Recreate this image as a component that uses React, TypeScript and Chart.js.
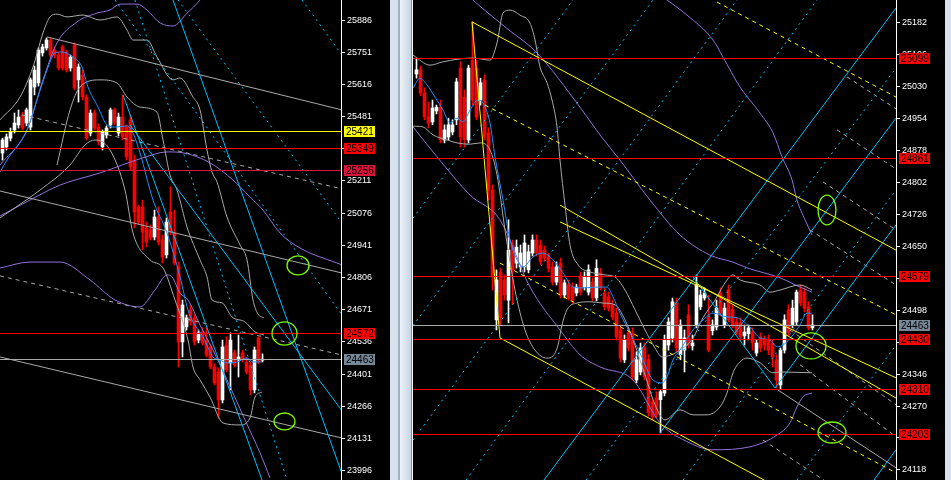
import { useEffect, useRef } from "react";
import { Chart, registerables } from "chart.js";

Chart.register(...registerables);

/* ===================== left chart ===================== */
const leftOpen = [25328, 25354, 25391, 25425, 25446, 25488, 25454, 25437, 25605, 25622, 25748, 25769, 25802, 25760, 25739, 25773, 25752, 25685, 25781, 25635, 25655, 25563, 25412, 25496, 25437, 25354, 25404, 25446, 25509, 25412, 25479, 25437, 25467, 25299, 25102, 25102, 25014, 25006, 24976, 25060, 24964, 24901, 25081, 24997, 24850, 24536, 24599, 24670, 24637, 24544, 24578, 24544, 24515, 24431, 24410, 24293, 24523, 24448, 24490, 24460, 24490, 24452, 24439, 24335, 24553, 24460];
const leftHigh = [25391, 25408, 25433, 25496, 25509, 25500, 25517, 25643, 25693, 25769, 25785, 25811, 25811, 25773, 25752, 25781, 25760, 25739, 25790, 25702, 25676, 25572, 25509, 25509, 25450, 25425, 25442, 25517, 25517, 25496, 25572, 25446, 25488, 25320, 25110, 25131, 25039, 25027, 25089, 25102, 24985, 25056, 25186, 25089, 24871, 24712, 24649, 24691, 24649, 24586, 24595, 24599, 24528, 24444, 24427, 24544, 24557, 24574, 24502, 24565, 24502, 24469, 24452, 24515, 24557, 24486];
const leftLow = [25299, 25341, 25379, 25412, 25433, 25425, 25442, 25425, 25572, 25609, 25735, 25760, 25731, 25727, 25676, 25676, 25668, 25672, 25593, 25542, 25551, 25383, 25400, 25425, 25362, 25341, 25391, 25433, 25446, 25400, 25383, 25299, 25257, 25014, 25031, 24922, 24934, 24964, 24964, 24943, 24867, 24888, 24985, 24859, 24431, 24473, 24586, 24607, 24523, 24532, 24523, 24473, 24423, 24356, 24217, 24280, 24410, 24335, 24431, 24389, 24452, 24402, 24314, 24322, 24444, 24452];
const leftClose = [25383, 25396, 25417, 25454, 25479, 25433, 25509, 25635, 25676, 25760, 25773, 25802, 25739, 25739, 25685, 25685, 25676, 25731, 25601, 25689, 25563, 25391, 25496, 25433, 25375, 25417, 25433, 25509, 25454, 25479, 25396, 25312, 25270, 25081, 25039, 24997, 24955, 24972, 25060, 24955, 24892, 25039, 24997, 24867, 24536, 24691, 24637, 24620, 24536, 24574, 24532, 24481, 24431, 24364, 24293, 24515, 24419, 24544, 24439, 24473, 24460, 24410, 24335, 24502, 24452, 24463];

const leftTicks = [25886, 25751, 25616, 25481, 25346, 25211, 25076, 24941, 24806, 24671, 24536, 24401, 24266, 24131, 23996];
const leftLevels = [25421, 25349, 25256, 24572, 24463];

// indicator curves: [bar, price]
const leftMa = [[-0.625, 25249], [1.125, 25299], [6.125, 25425], [8.625, 25551], [11.125, 25676], [13.125, 25748], [14.875, 25752], [17.625, 25731], [19.875, 25689], [21.375, 25605], [23.875, 25521], [26.125, 25446], [28.125, 25437], [31.125, 25442], [32.625, 25412], [34.375, 25328], [37.625, 25131], [41.125, 24993], [44.375, 24809], [46.375, 24670], [47.625, 24620], [50.125, 24557], [52.625, 24473], [54.375, 24460], [56.125, 24448], [58.625, 24452], [61.125, 24469], [62.625, 24452], [64.875, 24452]];
const leftBandUpper = [[-0.625, 25467], [4.375, 25563], [7.625, 25689], [10.125, 25832], [11.875, 25899], [13.625, 25911], [16.125, 25899], [20.125, 25907], [24.375, 25886], [28.625, 25899], [31.125, 25844], [32.625, 25802], [36.125, 25802], [38.625, 25731], [42.625, 25635], [44.375, 25643], [47.625, 25563], [49.375, 25509], [51.125, 25341], [52.375, 25249], [53.625, 25207], [56.125, 25060], [59.375, 24943], [61.125, 24880], [62.625, 24712], [63.875, 24653], [65.375, 24637]];
const leftBandInner = [[13.625, 25278], [16.875, 25509], [19.375, 25605], [24.375, 25635], [28.625, 25622], [31.125, 25563], [34.375, 25521], [38.625, 25500], [40.125, 25383], [41.875, 25236], [43.625, 25173], [46.125, 25018], [49.375, 24880], [51.125, 24809], [52.375, 24712], [54.875, 24700], [57.375, 24641], [60.625, 24620], [63.125, 24578], [65.375, 24565]];
const leftBandLower = [[-0.625, 25056], [9.375, 25173], [16.875, 25278], [20.625, 25362], [23.125, 25383], [26.875, 25341], [30.625, 25173], [32.625, 24993], [36.875, 24880], [40.125, 24846], [43.125, 24712], [46.375, 24544], [47.625, 24431], [49.375, 24377], [51.875, 24305], [55.125, 24196], [59.375, 24188], [61.875, 24217], [63.125, 24305], [64.875, 24326]];
const leftEnvUpper = [[-0.625, 25278], [6.125, 25425], [10.125, 25635], [13.625, 25790], [18.625, 25878], [23.625, 25915], [26.875, 25928], [29.375, 25953], [33.625, 25953], [36.125, 25928], [39.375, 25874], [42.625, 25861], [46.125, 25915], [49.375, 25970], [51.875, 26033]];
const leftEnvMid = [[-0.625, 25064], [6.875, 25131], [14.375, 25194], [24.375, 25245], [35.125, 25308], [41.125, 25333], [45.125, 25329], [51.875, 25287], [57.625, 25215], [61.875, 25144], [65.125, 25089], [69.375, 24993], [74.375, 24930], [84.875, 24859]];
const leftEnvLower = [[-0.625, 24846], [6.875, 24871], [14.375, 24871], [21.875, 24796], [28.125, 24712], [34.375, 24683], [38.125, 24754], [41.125, 24817], [42.375, 24809], [44.375, 24741], [46.375, 24712], [49.375, 24607], [52.625, 24502], [56.125, 24377], [60.625, 24209], [64.375, 24071], [66.875, 23966]];

// drawn lines: [bar1, price1, bar2, price2]
const leftGrayLines = [[11.125, 25815, 84.875, 25509], [-0.625, 25169, 84.875, 24825], [-0.625, 24473, 84.875, 24133]];
const leftGrayDashed = [[4.875, 25488, 84.875, 25178], [-0.625, 24813, 84.875, 24481]];
const leftCyanLines = [[30.125, 25572, 64.875, 23957], [42.625, 25970, 84.875, 23983], [31.875, 25446, 84.875, 24247]];
const leftCyanDotted = [[33.125, 25970, 71.125, 23957], [28.125, 25970, 84.875, 24649], [43.875, 25970, 84.875, 25035], [74.875, 25970, 84.875, 25739]];
const leftEllipses = [[71.125, 24897, 76.625, 24817], [67.375, 24620, 73.625, 24523], [67.875, 24238, 73.125, 24167]];

/* ===================== right chart ===================== */
const rightOpen = [25060, 25070, 25015, 24958, 24946, 24972, 24981, 24903, 24910, 24922, 24951, 25074, 25005, 24903, 25093, 25074, 24998, 25046, 24920, 24784, 24475, 24589, 24570, 24522, 24653, 24610, 24601, 24601, 24594, 24634, 24665, 24653, 24641, 24625, 24601, 24565, 24610, 24534, 24558, 24553, 24539, 24577, 24553, 24541, 24565, 24527, 24587, 24539, 24530, 24511, 24491, 24451, 24380, 24444, 24444, 24332, 24351, 24408, 24380, 24280, 24289, 24285, 24301, 24415, 24432, 24515, 24392, 24403, 24487, 24413, 24463, 24506, 24527, 24482, 24449, 24458, 24539, 24463, 24546, 24499, 24470, 24468, 24437, 24442, 24446, 24396, 24434, 24427, 24427, 24420, 24380, 24320, 24403, 24499, 24463, 24470, 24546, 24541, 24506, 24456];
const rightHigh = [25098, 25079, 25027, 24993, 24998, 24986, 24998, 24939, 24955, 24951, 25050, 25089, 25022, 25081, 25184, 25093, 25050, 25058, 24932, 24796, 24594, 24598, 24582, 24713, 24665, 24665, 24653, 24677, 24653, 24677, 24677, 24665, 24651, 24634, 24613, 24613, 24622, 24570, 24570, 24563, 24560, 24589, 24589, 24606, 24575, 24618, 24598, 24551, 24541, 24522, 24503, 24463, 24439, 24456, 24456, 24399, 24420, 24420, 24392, 24289, 24304, 24308, 24439, 24480, 24527, 24527, 24475, 24451, 24511, 24439, 24582, 24546, 24551, 24534, 24475, 24522, 24551, 24515, 24558, 24511, 24480, 24480, 24463, 24463, 24456, 24427, 24444, 24437, 24439, 24427, 24392, 24408, 24487, 24511, 24522, 24546, 24558, 24551, 24518, 24487];
const rightLow = [25050, 25008, 24951, 24932, 24939, 24965, 24896, 24896, 24903, 24915, 24939, 24886, 24886, 24896, 24986, 24951, 24986, 24903, 24760, 24546, 24451, 24463, 24522, 24468, 24511, 24598, 24589, 24589, 24587, 24627, 24627, 24606, 24615, 24589, 24558, 24558, 24527, 24527, 24522, 24515, 24532, 24534, 24546, 24534, 24520, 24520, 24546, 24499, 24496, 24475, 24427, 24375, 24373, 24401, 24332, 24325, 24344, 24332, 24246, 24237, 24242, 24206, 24294, 24403, 24422, 24399, 24380, 24351, 24408, 24403, 24456, 24499, 24522, 24399, 24439, 24451, 24484, 24456, 24470, 24456, 24439, 24427, 24415, 24427, 24403, 24389, 24399, 24403, 24392, 24363, 24313, 24311, 24396, 24437, 24456, 24463, 24508, 24494, 24451, 24451];
const rightClose = [25070, 25015, 24958, 24943, 24979, 24981, 24903, 24927, 24939, 24939, 25041, 24910, 24903, 25074, 24998, 24958, 25039, 24910, 24784, 24577, 24570, 24480, 24534, 24641, 24594, 24648, 24634, 24658, 24637, 24665, 24634, 24613, 24622, 24598, 24565, 24601, 24534, 24563, 24527, 24522, 24553, 24541, 24577, 24594, 24527, 24598, 24551, 24506, 24503, 24482, 24434, 24384, 24427, 24408, 24339, 24380, 24408, 24339, 24254, 24244, 24249, 24304, 24427, 24470, 24518, 24408, 24463, 24432, 24415, 24420, 24558, 24534, 24539, 24403, 24463, 24503, 24491, 24503, 24475, 24463, 24446, 24434, 24446, 24456, 24420, 24420, 24408, 24415, 24403, 24387, 24332, 24403, 24475, 24444, 24503, 24541, 24515, 24503, 24456, 24463];

const rightTicks = [25182, 25106, 25030, 24954, 24878, 24802, 24726, 24650, 24574, 24498, 24422, 24346, 24270, 24194, 24118];
const rightLevels = [25099, 24861, 24579, 24463, 24430, 24310, 24203];

const rightMa = [[-0.875, 25027], [0.875, 25050], [2.625, 25034], [4.625, 25005], [6.625, 24974], [8.375, 24943], [10.125, 24955], [11.625, 24946], [13.375, 24974], [15.375, 24998], [16.625, 24991], [18.375, 24943], [19.625, 24863], [21.625, 24760], [23.375, 24665], [25.125, 24618], [26.625, 24601], [29.125, 24625], [31.625, 24634], [34.125, 24618], [36.625, 24587], [39.125, 24553], [41.625, 24551], [45.125, 24553], [47.625, 24553], [49.125, 24530], [50.875, 24491], [53.375, 24444], [55.875, 24396], [59.125, 24332], [61.375, 24325], [62.625, 24339], [64.125, 24380], [65.875, 24403], [69.125, 24451], [71.625, 24475], [74.125, 24491], [77.625, 24482], [80.125, 24480], [83.375, 24458], [85.875, 24432], [88.375, 24427], [90.125, 24411], [91.625, 24415], [94.125, 24439], [95.875, 24463], [97.625, 24491], [98.875, 24491]];
const rightBandUpper = [[-0.875, 25105], [3.375, 25081], [6.625, 25089], [14.125, 25098], [18.375, 25093], [20.125, 25134], [21.625, 25205], [23.375, 25212], [25.875, 25200], [28.375, 25181], [29.625, 25141], [30.875, 25077], [32.625, 25039], [33.875, 24998], [35.125, 24934], [35.875, 24855], [37.125, 24748], [38.375, 24653], [40.375, 24606], [43.375, 24589], [47.125, 24582], [49.625, 24577], [52.125, 24546], [54.625, 24499], [57.125, 24451], [59.625, 24408], [61.375, 24387], [65.875, 24403], [69.125, 24432], [71.625, 24480], [74.625, 24522], [77.625, 24570], [79.125, 24582], [80.875, 24570], [85.875, 24558], [88.375, 24541], [90.875, 24546], [95.875, 24558], [98.875, 24546]];
const rightBandLower = [[-0.875, 24936], [1.625, 24934], [4.125, 24915], [7.625, 24903], [10.125, 24896], [13.375, 24893], [15.875, 24896], [18.375, 24879], [20.125, 24820], [22.125, 24689], [24.625, 24546], [27.125, 24451], [29.625, 24403], [32.625, 24384], [34.125, 24389], [35.375, 24415], [36.375, 24463], [37.625, 24499], [40.125, 24515], [43.375, 24518], [46.625, 24515], [49.625, 24511], [52.125, 24475], [54.625, 24415], [57.125, 24344], [59.625, 24273], [62.125, 24237], [65.875, 24261], [69.125, 24249], [72.625, 24249], [75.875, 24268], [77.625, 24301], [79.125, 24349], [80.875, 24375], [82.625, 24384], [85.875, 24373], [89.125, 24349], [90.875, 24351], [98.875, 24349]];
const rightEnvOuter = [[60.875, 25248], [62.625, 25236], [67.625, 25200], [74.125, 25141], [76.625, 25100], [80.875, 25029], [85.875, 24967], [89.125, 24920], [91.375, 24863], [93.875, 24808], [95.125, 24760], [97.125, 24713], [98.875, 24677]];
const rightEnvUpper = [[12.125, 25255], [14.125, 25236], [22.125, 25172], [30.125, 25110], [40.875, 24981], [45.875, 24915], [50.875, 24855], [58.375, 24760], [65.875, 24677], [73.375, 24629], [78.875, 24613], [82.875, 24598], [90.875, 24575], [95.875, 24553], [98.875, 24541]];
const rightEnvLower = [[-0.875, 24934], [5.125, 24863], [13.375, 24772], [20.875, 24713], [28.375, 24553], [35.875, 24451], [40.875, 24392], [45.875, 24363], [54.125, 24332], [60.875, 24230], [68.375, 24182], [74.125, 24166], [83.375, 24173], [90.125, 24201], [93.375, 24230], [95.125, 24268], [96.625, 24292], [98.875, 24301]];

const rightYellowLines = [[13.875, 25184, 119.875, 24641], [13.875, 25184, 20.875, 24432], [20.875, 24432, 119.875, 23925], [35.875, 24748, 119.875, 24289], [35.875, 24708, 119.875, 24337]];
const rightYellowDashed = [[17.125, 24986, 119.875, 24487], [20.875, 24610, 119.875, 24111], [75.125, 25231, 119.875, 25005]];
const rightCyanLines = [[31.875, 24094, 119.875, 25217], [60.875, 24206, 119.875, 24955], [89.625, 24313, 119.875, 24701], [114.375, 24094, 119.875, 24166], [69.125, 24577, 89.625, 24313]];
const rightCyanDotted = [[-0.875, 24717, 39.125, 25236], [-0.875, 24461, 59.125, 25236], [-0.875, 24189, 80.125, 25236], [12.375, 24094, 100.125, 25236], [42.375, 24094, 119.875, 25074], [66.625, 24094, 119.875, 24784], [95.125, 24094, 119.875, 24415]];
const rightGrayLines = [[90.375, 24308, 119.875, 24123]];
const rightGrayDashed = [[107.625, 25053, 119.875, 24977], [105.125, 24927, 119.875, 24834], [101.625, 24803, 119.875, 24689], [98.375, 24689, 119.875, 24558], [93.375, 24451, 119.875, 24273], [95.875, 24368, 119.875, 24197], [86.625, 24189, 102.625, 24089]];
const rightEllipses = [[100.375, 24772, 104.875, 24701], [94.875, 24444, 102.375, 24382], [100.375, 24232, 107.375, 24182]];

/* ===================== styling ===================== */
const UP = "#ffffff";
const DOWN = "#ff0000";
const MA_COLOR = "#1e90ff";
const ENV_COLOR = "#9370db";
const GRAY = "#a9a9a9";
const CYAN = "#00bfff";
const YELLOW = "#ffff00";
const ELLIPSE = "#7cfc00";
const DASH = [4, 4];
const DOT = [2, 4];
const LEFT_LEVEL_COLORS = ["#ffff00", "#ff0000", "#dc143c", "#ff0000", "#a9a9a9"];
const LEFT_TAG_COLORS = ["#ffff00", "#ff0000", "#dc143c", "#ff0000", "#778899"];
const RIGHT_LEVEL_COLORS = ["#ff0000", "#ff0000", "#ff0000", "#a9a9a9", "#ff0000", "#ff0000", "#ff0000"];
const RIGHT_TAG_COLORS = ["#ff0000", "#ff0000", "#ff0000", "#778899", "#ff0000", "#ff0000", "#ff0000"];
const AXIS_FONT = { family: "'Liberation Sans', Arial, sans-serif", size: 9 };
const AXIS_W = 49;

type Num4 = number[];

function candleSets(o: number[], h: number[], l: number[], c: number[]) {
  const upWick: any[] = [], dnWick: any[] = [], upBody: any[] = [], dnBody: any[] = [];
  for (let i = 0; i < o.length; i++) {
    const up = c[i] >= o[i];
    (up ? upWick : dnWick).push({ x: i, y: [l[i], h[i]] });
    (up ? upBody : dnBody).push({ x: i, y: [Math.min(o[i], c[i]), Math.max(o[i], c[i])] });
  }
  const bar = (data: any[], color: string, thick: number) => ({
    type: "bar", data, backgroundColor: color, barThickness: thick, grouped: false,
    borderWidth: 0, minBarLength: 1, order: 10,
  });
  return [bar(upBody, UP, 3), bar(dnBody, DOWN, 3), bar(upWick, UP, 1), bar(dnWick, DOWN, 1)];
}

function lineSet(pts: number[][], color: string, extra: any = {}) {
  return {
    type: "line", data: pts.map(([x, y]) => ({ x, y })), borderColor: color, borderWidth: 1,
    pointRadius: 0, fill: false, order: 0, ...extra,
  };
}
const curve = (pts: number[][], color: string) => lineSet(pts, color, { cubicInterpolationMode: "monotone" });
const segs = (list: Num4[], color: string, dash: number[] = []) =>
  list.map(([a, b, c, d]) => lineSet([[a, b], [c, d]], color, { borderDash: dash }));

const background = {
  id: "background",
  beforeDraw(chart: any) {
    const { ctx, width, height } = chart;
    ctx.save();
    ctx.fillStyle = "#000";
    ctx.fillRect(0, 0, width, height);
    ctx.restore();
  },
};

function overlays(levels: number[], lineColors: string[], tagColors: string[], ellipses: Num4[]) {
  return {
    id: "overlays",
    afterDatasetsDraw(chart: any) {
      const { ctx, chartArea, scales } = chart;
      ctx.save();
      ctx.beginPath();
      ctx.rect(chartArea.left, chartArea.top, chartArea.right - chartArea.left, chartArea.bottom - chartArea.top);
      ctx.clip();
      levels.forEach((v, i) => {
        const y = Math.round(scales.y.getPixelForValue(v)) + 0.5;
        ctx.strokeStyle = lineColors[i];
        ctx.lineWidth = 1;
        ctx.beginPath();
        ctx.moveTo(chartArea.left, y);
        ctx.lineTo(chartArea.right, y);
        ctx.stroke();
      });
      ellipses.forEach(([x1, p1, x2, p2]) => {
        const a = scales.x.getPixelForValue(x1), b = scales.x.getPixelForValue(x2);
        const t = scales.y.getPixelForValue(p1), u = scales.y.getPixelForValue(p2);
        ctx.strokeStyle = ELLIPSE;
        ctx.lineWidth = 1.3;
        ctx.beginPath();
        ctx.ellipse((a + b) / 2, (t + u) / 2, Math.abs(b - a) / 2, Math.abs(u - t) / 2, 0, 0, Math.PI * 2);
        ctx.stroke();
      });
      ctx.restore();
    },
    afterDraw(chart: any) {
      const { ctx, chartArea, scales } = chart;
      ctx.save();
      ctx.font = "10px 'Liberation Sans', Arial, sans-serif";
      ctx.textBaseline = "middle";
      levels.forEach((v, i) => {
        const y = Math.round(scales.y.getPixelForValue(v));
        const x = chartArea.right + 3;
        ctx.fillStyle = tagColors[i];
        ctx.fillRect(x, y - 5, 31, 11);
        ctx.fillStyle = "#000";
        ctx.fillText(String(v), x + 2, y + 1);
      });
      ctx.restore();
    },
  };
}

function makeConfig(opts: {
  datasets: any[]; xMin: number; xMax: number; yMin: number; yMax: number; ticks: number[]; plugin: any;
}) {
  return {
    type: "bar",
    data: { datasets: opts.datasets },
    options: {
      responsive: false,
      animation: false,
      devicePixelRatio: 1,
      layout: { padding: 0 },
      plugins: { legend: { display: false }, tooltip: { enabled: false } },
      scales: {
        x: { type: "linear", min: opts.xMin, max: opts.xMax, display: false, offset: false },
        y: {
          position: "right",
          min: opts.yMin,
          max: opts.yMax,
          afterBuildTicks: (s: any) => { s.ticks = opts.ticks.map((value) => ({ value })); },
          afterFit: (s: any) => { s.width = AXIS_W; s.paddingTop = 0; s.paddingBottom = 0; },
          ticks: { color: "#ffffff", font: AXIS_FONT, padding: 2, autoSkip: false, callback: (v: any) => String(v) },
          grid: { drawOnChartArea: false, color: "#ffffff", tickLength: 4, tickWidth: 1 },
          border: { color: "#ffffff", width: 1 },
        },
      },
    },
    plugins: [background, opts.plugin],
  } as any;
}

function leftConfig() {
  const datasets = [
    ...segs(leftCyanLines, CYAN),
    ...segs(leftCyanDotted, CYAN, DOT),
    ...segs(leftGrayLines, GRAY),
    ...segs(leftGrayDashed, GRAY, DASH),
    curve(leftMa, MA_COLOR),
    curve(leftBandUpper, GRAY),
    curve(leftBandInner, GRAY),
    curve(leftBandLower, GRAY),
    curve(leftEnvUpper, ENV_COLOR),
    curve(leftEnvMid, ENV_COLOR),
    curve(leftEnvLower, ENV_COLOR),
    ...candleSets(leftOpen, leftHigh, leftLow, leftClose),
  ];
  return makeConfig({
    datasets, xMin: -0.625, xMax: 84.625, yMin: 23957, yMax: 25970, ticks: leftTicks,
    plugin: overlays(leftLevels, LEFT_LEVEL_COLORS, LEFT_TAG_COLORS, leftEllipses),
  });
}

function rightConfig() {
  const datasets = [
    ...segs(rightYellowLines, YELLOW),
    ...segs(rightYellowDashed, YELLOW, DASH),
    ...segs(rightCyanLines, CYAN),
    ...segs(rightCyanDotted, CYAN, DOT),
    ...segs(rightGrayLines, GRAY),
    ...segs(rightGrayDashed, GRAY, DASH),
    curve(rightMa, MA_COLOR),
    curve(rightBandUpper, GRAY),
    curve(rightBandLower, GRAY),
    curve(rightEnvOuter, ENV_COLOR),
    curve(rightEnvUpper, ENV_COLOR),
    curve(rightEnvLower, ENV_COLOR),
    ...candleSets(rightOpen, rightHigh, rightLow, rightClose),
  ];
  return makeConfig({
    datasets, xMin: -0.875, xMax: 119.875, yMin: 24094, yMax: 25236, ticks: rightTicks,
    plugin: overlays(rightLevels, RIGHT_LEVEL_COLORS, RIGHT_TAG_COLORS, rightEllipses),
  });
}

function ChartCanvas({ width, build }: { width: number; build: () => any }) {
  const ref = useRef<HTMLCanvasElement>(null);
  useEffect(() => {
    const chart = new Chart(ref.current as HTMLCanvasElement, build());
    return () => chart.destroy();
  }, [build]);
  return <canvas ref={ref} width={width} height={480} style={{ display: "block", width, height: 480 }} />;
}

export default function App() {
  useEffect(() => {
    document.body.style.margin = "0";
    document.body.style.background = "#000";
  }, []);
  const strip = (left: number, width: number, background: string) => (
    <div style={{ position: "absolute", left, top: 0, width, height: 480, background }} />
  );
  return (
    <div style={{ position: "relative", width: 951, height: 480, background: "#000", overflow: "hidden" }}>
      <div style={{ position: "absolute", left: 0, top: 0 }}>
        <ChartCanvas width={390} build={leftConfig} />
      </div>
      {strip(390, 8, "#d6e2ee")}
      {strip(398, 2, "#9fb0c2")}
      {strip(400, 11, "linear-gradient(to right, #eef3f9, #c6d4e3)")}
      {strip(411, 1, "#7d8a98")}
      {strip(412, 1, "#ffffff")}
      <div style={{ position: "absolute", left: 413, top: 0 }}>
        <ChartCanvas width={532} build={rightConfig} />
      </div>
      {strip(945, 6, "#d6e2ee")}
    </div>
  );
}
